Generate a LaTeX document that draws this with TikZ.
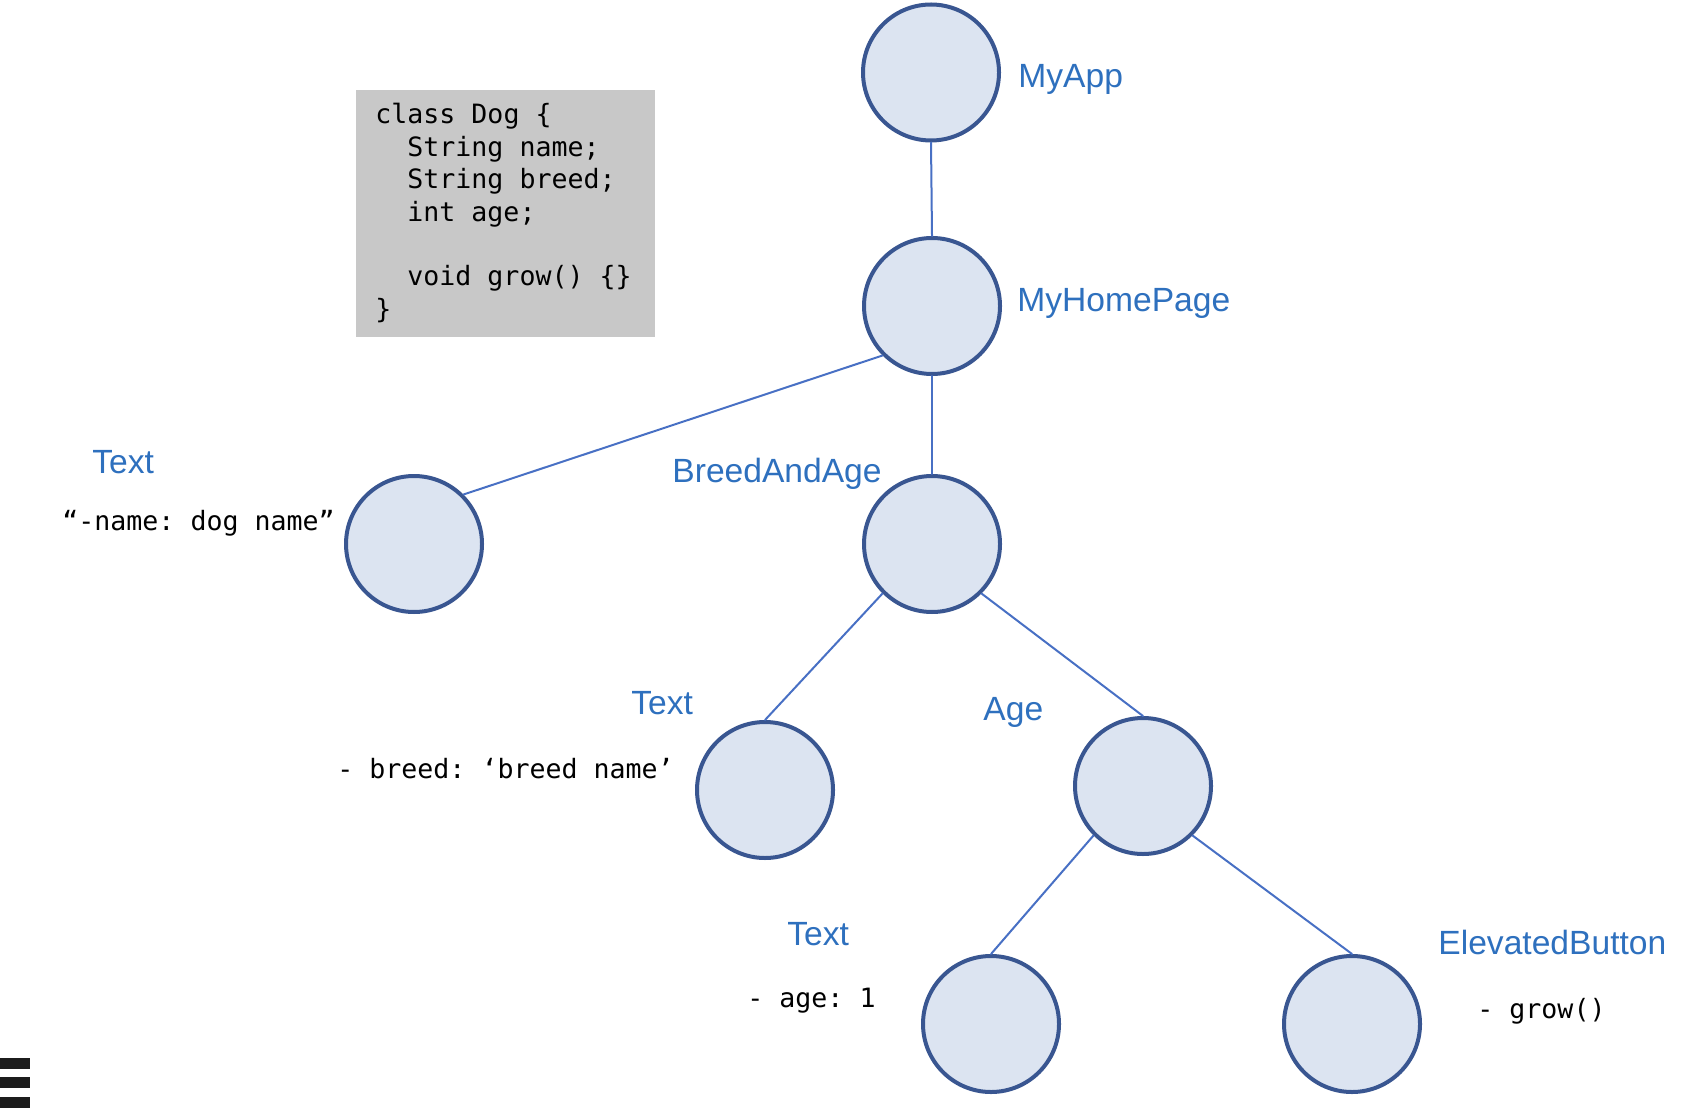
\documentclass[tikz,border=0pt]{standalone}
\usepackage{fontspec}
\setmainfont{Liberation Sans}
\newfontfamily\codefont{DejaVu Sans Mono}
\definecolor{circlefill}{RGB}{220,228,241}
\definecolor{circleline}{RGB}{57,86,145}
\definecolor{linkblue}{RGB}{72,112,196}
\definecolor{labelblue}{RGB}{46,112,190}
\definecolor{codegray}{RGB}{200,200,200}
\definecolor{barblack}{RGB}{28,28,28}
\frenchspacing
\begin{document}
\begin{tikzpicture}[line cap=round,line join=round,x=0.5pt,y=-0.5pt,
  widget/.style={circle,draw=circleline,fill=circlefill,line width=2pt,minimum size=68pt,inner sep=0pt},
  wname/.style={anchor=base west,inner sep=0pt,text=labelblue,font=\fontsize{16.8}{20}\selectfont},
  wprop/.style={anchor=base west,inner sep=0pt,font=\codefont\fontsize{13.3}{16}\selectfont},
  link/.style={draw=linkblue,line width=1pt}]
\useasboundingbox (0,0) rectangle (1700,1112);
% code box
\node[fill=codegray,minimum width=149.5pt,minimum height=123.5pt,inner sep=0pt] (dogclass) at (505.5,213.5) {};
\foreach \x/\y/\t in {375/124/{class Dog \{},407/156.4/{String name;},407/188.8/{String breed;},
  407/221.2/{int age;},407/286/{void grow() \{\}},375/318.4/{\}}}
  \node[wprop] at (\x,\y) {\t};
% widget tree
\node[widget] (myapp) at (931,72.5) {};
\node[widget] (homepage) at (932,306) {};
\node[widget] (nametext) at (414,544) {};
\node[widget] (breedage) at (932,544) {};
\node[widget] (breedtext) at (765,790) {};
\node[widget] (age) at (1143,786) {};
\node[widget] (agetext) at (991,1024) {};
\node[widget] (button) at (1352,1024) {};
\draw[link] (myapp.south) -- (homepage.north);
\draw[link] (homepage.south) -- (breedage.north);
\draw[link] (homepage.south west) -- (nametext.north east);
\draw[link] (breedage.south west) -- (breedtext.north);
\draw[link] (breedage.south east) -- (age.north);
\draw[link] (age.south west) -- (agetext.north);
\draw[link] (age.south east) -- (button.north);
% labels
\node[wname] (myapplbl) at (1018,88) {MyApp};
\node[wname] (homepagelbl) at (1017,312) {MyHomePage};
\node[wname] (nametextlbl) at (92,473) {Text};
\node[wprop] (nametextprop) at (62,530) {“-name: dog name”};
\node[wname] (breedagelbl) at (672,482) {BreedAndAge};
\node[wname] (breedtextlbl) at (631,714) {Text};
\node[wprop] (breedtextprop) at (337,778) {- breed: ‘breed name’};
\node[wname] (agelbl) at (983,720) {Age};
\node[wname] (agetextlbl) at (787,945) {Text};
\node[wprop] (agetextprop) at (747,1007) {- age: 1};
\node[wname] (buttonlbl) at (1438,954) {ElevatedButton};
\node[wprop] (buttonprop) at (1477,1018) {- grow()};
% menu bars
\foreach \y in {1058,1077,1097}
  \fill[barblack] (0,\y) rectangle (30,\y+11);
\end{tikzpicture}
\end{document}
